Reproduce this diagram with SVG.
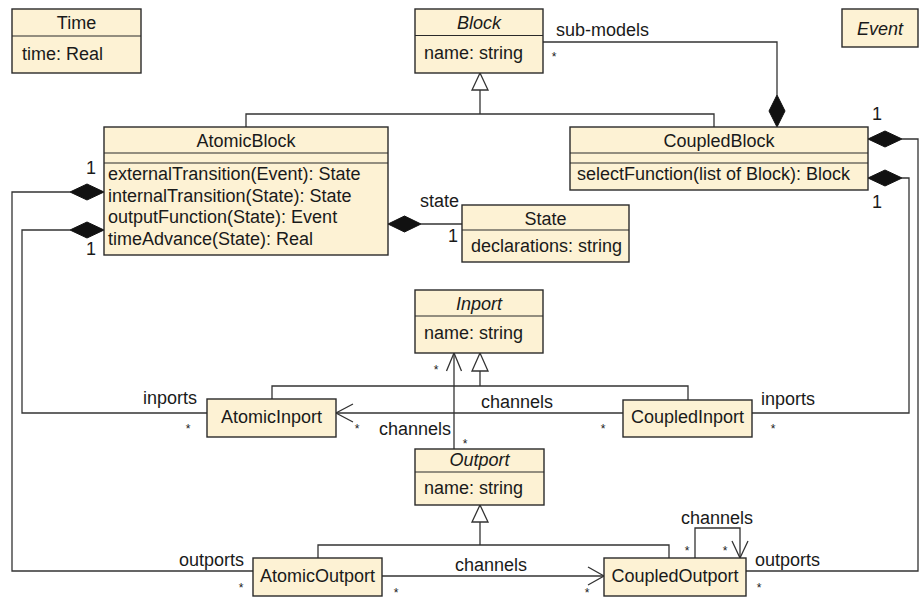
<svg xmlns="http://www.w3.org/2000/svg" width="919" height="599" viewBox="0 0 919 599">
  <style>
    .box { fill: #fdf2d4; stroke: #2a2a2a; stroke-width: 1.4; }
    .div { stroke: #2a2a2a; stroke-width: 1.2; fill: none; }
    .t { font-family: "Liberation Sans", Arial, sans-serif; font-size: 18px; fill: #1a1a1a; }
    .c { text-anchor: middle; }
    .i { font-style: italic; }
    .star { font-family: "Liberation Sans", Arial, sans-serif; font-size: 12px; fill: #1a1a1a; text-anchor: middle; }
    .ln { fill: none; stroke: #333; stroke-width: 1.3; }
    .dia { fill: #111; stroke: #111; stroke-width: 1; }
    .tri { fill: #fff; stroke: #333; stroke-width: 1.3; }
  </style>
  <rect width="919" height="599" fill="#ffffff"/>

  <!-- connectors -->
  <g id="connectors">
    <!-- generalization to Block -->
    <polyline class="ln" points="480,90 480,114"/>
    <polyline class="ln" points="246,127 246,114 714,114 714,127"/>
    <polygon class="tri" points="480,73 472,90 488,90"/>
    <!-- generalization to Inport -->
    <polyline class="ln" points="480,371 480,386"/>
    <polyline class="ln" points="272,399 272,386 688,386 688,400"/>
    <polygon class="tri" points="480,353 472,371 488,371"/>
    <!-- generalization to Outport -->
    <polyline class="ln" points="480,522 480,545"/>
    <polyline class="ln" points="318,558 318,545 669,545 669,558"/>
    <polygon class="tri" points="480,505 472,522 488,522"/>

    <!-- sub-models composition -->
    <polyline class="ln" points="543,42 777,42 777,95"/>
    <polygon class="dia" points="777,95 785,111 777,127 769,111"/>

    <!-- state composition -->
    <polyline class="ln" points="421,224 462,224"/>
    <polygon class="dia" points="388,224 404.5,216 421,224 404.5,232"/>

    <!-- AtomicBlock outports / inports -->
    <polyline class="ln" points="70,192 12,192 12,571 253,571"/>
    <polygon class="dia" points="104,192 87,184 70,192 87,200"/>
    <polyline class="ln" points="70,230 22,230 22,413 207,413"/>
    <polygon class="dia" points="104,230 87,222 70,230 87,238"/>

    <!-- CoupledBlock outports / inports -->
    <polyline class="ln" points="902,139 918,139 918,571 746,571"/>
    <polygon class="dia" points="868,139 885,131 902,139 885,147"/>
    <polyline class="ln" points="902,178 909,178 909,413 752,413"/>
    <polygon class="dia" points="868,178 885,170 902,178 885,186"/>

    <!-- channels: CoupledInport to AtomicInport -->
    <polyline class="ln" points="623,413 336,413"/>
    <polyline class="ln" points="353,404 336,413 353,422"/>

    <!-- channels: Outport to Inport -->
    <polyline class="ln" points="454,449 454,353"/>
    <polyline class="ln" points="446.5,371 454,353 461.5,371"/>

    <!-- channels: AtomicOutport to CoupledOutport -->
    <polyline class="ln" points="382,576 604,576"/>
    <polyline class="ln" points="588,567 604,576 588,585"/>

    <!-- channels: CoupledOutport self loop -->
    <polyline class="ln" points="695,558 695,528 740,528 740,558"/>
    <polyline class="ln" points="732,541 740,558 748,541"/>
  </g>

  <!-- connector labels -->
  <g id="labels">
    <text class="t" x="556" y="36">sub-models</text>
    <text class="star" x="554" y="61">*</text>
    <text class="t" x="420" y="207">state</text>
    <text class="t" x="448" y="242">1</text>
    <text class="t" x="86" y="174">1</text>
    <text class="t" x="86" y="255">1</text>
    <text class="t" x="872" y="120">1</text>
    <text class="t" x="872" y="208">1</text>
    <text class="t" x="143" y="404">inports</text>
    <text class="star" x="188" y="433">*</text>
    <text class="star" x="357" y="433">*</text>
    <text class="t" x="481" y="408">channels</text>
    <text class="star" x="603" y="433">*</text>
    <text class="t" x="761" y="405">inports</text>
    <text class="star" x="773" y="433">*</text>
    <text class="star" x="436" y="374">*</text>
    <text class="t" x="379" y="435">channels</text>
    <text class="star" x="465" y="448">*</text>
    <text class="t" x="179" y="566">outports</text>
    <text class="star" x="241" y="592">*</text>
    <text class="t" x="455" y="571">channels</text>
    <text class="star" x="396" y="597">*</text>
    <text class="star" x="587" y="597">*</text>
    <text class="t" x="681" y="524">channels</text>
    <text class="star" x="687" y="555">*</text>
    <text class="star" x="725" y="555">*</text>
    <text class="t" x="755" y="566">outports</text>
    <text class="star" x="759" y="592">*</text>
  </g>

  <!-- classes -->
  <g id="Time">
    <rect class="box" x="12" y="9" width="129" height="64"/>
    <line class="div" x1="12" y1="36" x2="141" y2="36"/>
    <text class="t c" x="76.5" y="29">Time</text>
    <text class="t" x="22" y="59.5">time: Real</text>
  </g>

  <g id="Block">
    <rect class="box" x="415" y="9" width="128" height="64"/>
    <line class="div" x1="415" y1="35.5" x2="543" y2="35.5"/>
    <text class="t c i" x="479" y="29">Block</text>
    <text class="t" x="424" y="59">name: string</text>
  </g>

  <g id="Event">
    <rect class="box" x="842" y="9" width="76" height="38"/>
    <text class="t c i" x="880" y="35">Event</text>
  </g>

  <g id="AtomicBlock">
    <rect class="box" x="104" y="127" width="284" height="128"/>
    <line class="div" x1="104" y1="153" x2="388" y2="153"/>
    <line class="div" x1="104" y1="163" x2="388" y2="163"/>
    <text class="t c" x="246" y="147">AtomicBlock</text>
    <text class="t" x="108" y="180">externalTransition(Event): State</text>
    <text class="t" x="108" y="201.7">internalTransition(State): State</text>
    <text class="t" x="108" y="223.4">outputFunction(State): Event</text>
    <text class="t" x="108" y="245">timeAdvance(State): Real</text>
  </g>

  <g id="CoupledBlock">
    <rect class="box" x="570" y="127" width="298" height="63"/>
    <line class="div" x1="570" y1="153" x2="868" y2="153"/>
    <line class="div" x1="570" y1="163" x2="868" y2="163"/>
    <text class="t c" x="719" y="147">CoupledBlock</text>
    <text class="t" x="577" y="180">selectFunction(list of Block): Block</text>
  </g>

  <g id="State">
    <rect class="box" x="462" y="205" width="167" height="57"/>
    <line class="div" x1="462" y1="230" x2="629" y2="230"/>
    <text class="t c" x="545.5" y="225">State</text>
    <text class="t" x="471" y="251.5">declarations: string</text>
  </g>

  <g id="Inport">
    <rect class="box" x="415" y="290" width="128" height="63"/>
    <line class="div" x1="415" y1="316" x2="543" y2="316"/>
    <text class="t c i" x="479" y="310">Inport</text>
    <text class="t" x="424" y="338.5">name: string</text>
  </g>

  <g id="AtomicInport">
    <rect class="box" x="207" y="399" width="129" height="38"/>
    <text class="t c" x="271.5" y="423">AtomicInport</text>
  </g>

  <g id="CoupledInport">
    <rect class="box" x="623" y="400" width="129" height="37"/>
    <text class="t c" x="687.5" y="423">CoupledInport</text>
  </g>

  <g id="Outport">
    <rect class="box" x="415" y="449" width="129" height="56"/>
    <line class="div" x1="415" y1="472" x2="544" y2="472"/>
    <text class="t c i" x="479.5" y="466">Outport</text>
    <text class="t" x="424" y="493.5">name: string</text>
  </g>

  <g id="AtomicOutport">
    <rect class="box" x="253" y="558" width="129" height="38"/>
    <text class="t c" x="317.5" y="582">AtomicOutport</text>
  </g>

  <g id="CoupledOutport">
    <rect class="box" x="604" y="558" width="142" height="38"/>
    <text class="t c" x="675" y="582">CoupledOutport</text>
  </g>
</svg>
